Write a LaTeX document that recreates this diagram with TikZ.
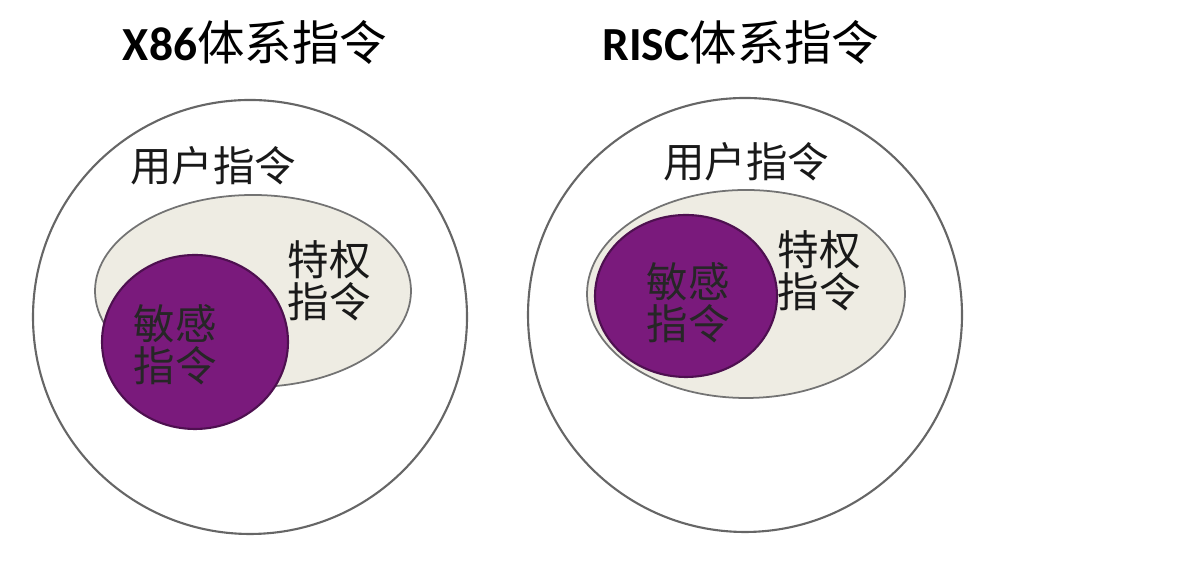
\documentclass[tikz,border=0pt]{standalone}
\usepackage{fontspec}
\setmainfont{Carlito}
\newfontfamily\cjk{Noto Sans CJK SC}
\definecolor{sensepurple}{HTML}{7A1A7C}
\definecolor{senseedge}{HTML}{4E1050}
\definecolor{privfill}{HTML}{EEECE3}
\tikzset{
  usercircle/.style={draw=black!60, line width=0.6pt},
  privoval/.style={draw=black!55, line width=0.5pt, fill=privfill},
  senseblob/.style={draw=senseedge, line width=0.6pt, fill=sensepurple},
  titletext/.style={font=\fontsize{13.5}{16}\selectfont, text=black},
  labeltext/.style={font=\fontsize{11.8}{12}\selectfont\cjk, text=black!90, align=center},
}

\begin{document}
\begin{tikzpicture}[x=0.01cm, y=-0.01cm]
			%%%%% START %%%%%
			\useasboundingbox (0, 0) rectangle (1200, 562);
			
			% x86 side
			\draw[usercircle] (250, 317) circle (217);
			\draw[privoval] (253, 291) ellipse (158 and 96);
			\draw[senseblob] (195, 342) ellipse (93 and 87);
			
			\node[titletext] (x86title) at (255, 43) {\textbf{X86}{\cjk 体系指令}};
			\node[labeltext] (x86user) at (213, 166) {用户指令};
			\node[labeltext] (x86priv) at (329, 281) {特权\\指令};
			\node[labeltext, text=black!85] (x86sense) at (175, 345) {敏感\\指令};
			
			% risc side
			\draw[usercircle] (745, 315) circle (217);
			\draw[privoval] (746, 294) ellipse (159 and 104);
			\draw[senseblob] (686, 296) ellipse (91 and 81);
			
			\node[titletext] (risctitle) at (741, 43) {\textbf{RISC}{\cjk 体系指令}};
			\node[labeltext] (riscuser) at (746, 162) {用户指令};
			\node[labeltext] (riscpriv) at (819, 271) {特权\\指令};
			\node[labeltext, text=black!85] (riscsense) at (688, 303) {敏感\\指令};
			%%%%% END %%%%%
\end{tikzpicture}
\end{document}
